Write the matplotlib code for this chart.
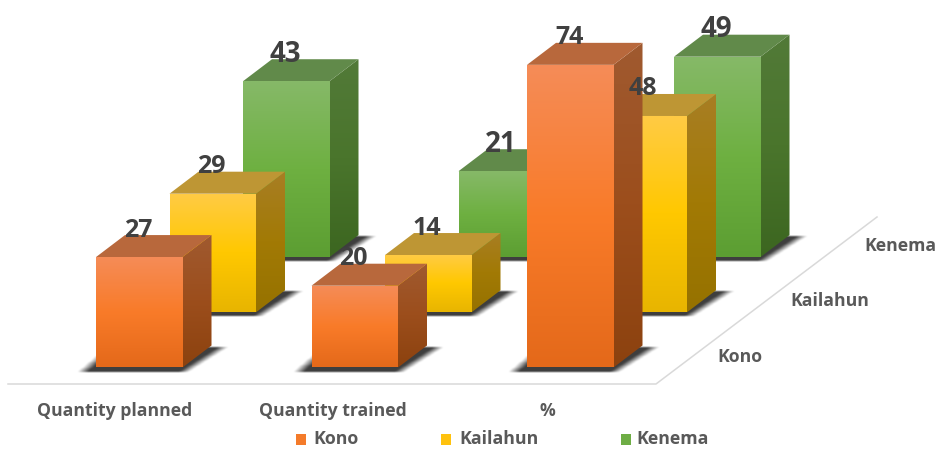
import numpy as np
import matplotlib
matplotlib.use("Agg")
import matplotlib.pyplot as plt
from matplotlib.patches import Polygon, Rectangle
from matplotlib.path import Path
from matplotlib.colors import to_rgb

categories = ["Quantity planned", "Quantity trained", "%"]
series = ["Kono", "Kailahun", "Kenema"]
kono = [27, 20, 74]
kailahun = [29, 14, 48]
kenema = [43, 21, 49]
values = [kono, kailahun, kenema]

front_cols = [["#F58C58", "#F97B29", "#E4691A"],
              ["#FFCB45", "#FFC800", "#E8B500"],
              ["#86B968", "#6EB041", "#5C9E32"]]
side_cols = [["#A05A30", "#9C4E1C", "#8C420F"],
             ["#A87E24", "#A27A05", "#967200"],
             ["#527A38", "#4A752C", "#3C6620"]]
top_cols = ["#B8683C", "#BE9634", "#618A4A"]

plt.rcParams["font.family"] = ["Open Sans", "DejaVu Sans"]
fig = plt.figure(figsize=(9.39, 4.5), dpi=100)
ax = fig.add_axes([0, 0, 1, 1])
ax.axis("off")

# projection scale of the fake-3D plot
X0, Y0 = 96.0, 367.5
CAT_DX = 215.5
SER_DX, SER_DY = 73.5, -55.2
PER_UNIT = 4.09
BAR_W = 86.5
DEPTH_X, DEPTH_Y = 29.0, -22.0


def grad(cols, n=128):
    rgb = np.array([to_rgb(c) for c in cols])
    t = np.linspace(0, 1, n)
    return np.stack([np.interp(t, [0, .5, 1], rgb[:, k]) for k in range(3)], axis=1)[:, None, :]


def fill(pts, cols, z):
    pts = np.array(pts)
    xa, xb, ya, yb = pts[:, 0].min(), pts[:, 0].max(), pts[:, 1].min(), pts[:, 1].max()
    im = ax.imshow(grad(cols), extent=(xa, xb, yb, ya), aspect="auto", zorder=z,
                   interpolation="bilinear")
    p = Polygon(pts, closed=True, transform=ax.transData, fc="none", ec="none")
    ax.add_patch(p)
    im.set_clip_path(p)


def blur(a, r):
    k = np.ones(r) / r
    for _ in range(2):
        a = np.apply_along_axis(lambda v: np.convolve(v, k, mode="same"), 0, a)
        a = np.apply_along_axis(lambda v: np.convolve(v, k, mode="same"), 1, a)
    return a


def shadow(x0, x1, y, z):
    poly = [(x0 - 14, y + 3), (x1 + 1, y + 3), (x1 + DEPTH_X + 12, y + DEPTH_Y),
            (x0 + DEPTH_X - 14, y + DEPTH_Y)]
    pad = 14
    xs = np.arange(int(x0 - 14 - pad), int(x1 + DEPTH_X + 12 + pad))
    ys = np.arange(int(y + DEPTH_Y - pad), int(y + 3 + pad))
    gx, gy = np.meshgrid(xs + .5, ys + .5)
    m = Path(poly).contains_points(np.c_[gx.ravel(), gy.ravel()]).reshape(gx.shape).astype(float)
    # horizontal softening: the cast shadow fades away from the bar
    k = np.ones(11) / 11
    m = np.apply_along_axis(lambda v: np.convolve(v, k, mode="same"), 1, m)
    m = blur(m, 2)
    img = np.zeros(m.shape + (4,))
    img[..., :3] = 0.2
    img[..., 3] = m * 0.95
    ax.imshow(img, extent=(xs[0], xs[-1] + 1, ys[-1] + 1, ys[0]), aspect="auto", zorder=z,
              interpolation="bilinear")


# floor lines
floor_y = 384
ax.plot([8, 656, 877], [floor_y, floor_y, 217], color="#D9D9D9", lw=1.1, zorder=1)

labels = []
z = 2
for s in range(len(series) - 1, -1, -1):
    for c in range(len(categories)):
        v = values[s][c]
        x0 = X0 + c * CAT_DX + s * SER_DX
        x1 = x0 + BAR_W
        yb = Y0 + s * SER_DY
        yt = yb - v * PER_UNIT
        shadow(x0, x1, yb, z)
        fill([(x1, yb), (x1 + DEPTH_X, yb + DEPTH_Y), (x1 + DEPTH_X, yt + DEPTH_Y), (x1, yt)],
             side_cols[s], z + 0.1)
        ax.add_patch(Polygon([(x0, yt), (x1, yt), (x1 + DEPTH_X, yt + DEPTH_Y), (x0 + DEPTH_X, yt + DEPTH_Y)],
                             closed=True, fc=top_cols[s], ec="none", zorder=z + 0.2))
        fill([(x0, yt), (x1, yt), (x1, yb), (x0, yb)], front_cols[s], z + 0.3)
        labels.append((x0 + BAR_W / 2 - 1, yt - 27, v, 20 if s == 2 else 18))
        z += 1

for x, y, v, fs in labels:
    ax.text(x, y, str(v), ha="center", va="center", fontsize=fs, fontweight="bold",
            color="#404040", zorder=100)

grey = "#595959"
for c, name in zip([115, 333, 547], categories):
    ax.text(c, 411, name, ha="center", va="center", fontsize=12.7, fontweight="bold", color=grey, zorder=100)
for (x, y), name in zip([(740, 357), (830, 301), (900, 246)], series):
    ax.text(x, y, name, ha="center", va="center", fontsize=12.7, fontweight="bold", color=grey, zorder=100)

for mx, tx, name, col in zip([296, 441, 621], [313, 459, 636], series, ["#F47B2A", "#FFC20E", "#6EAD45"]):
    ax.add_patch(Rectangle((mx, 434), 10, 11, fc=col, ec="none", zorder=100))
    ax.text(tx, 444, name, ha="left", va="baseline", fontsize=12.8, fontweight="bold", color=grey, zorder=100)

ax.set_xlim(0, 939)
ax.set_ylim(450, 0)
fig.savefig("out.png", dpi=100, facecolor="white")
